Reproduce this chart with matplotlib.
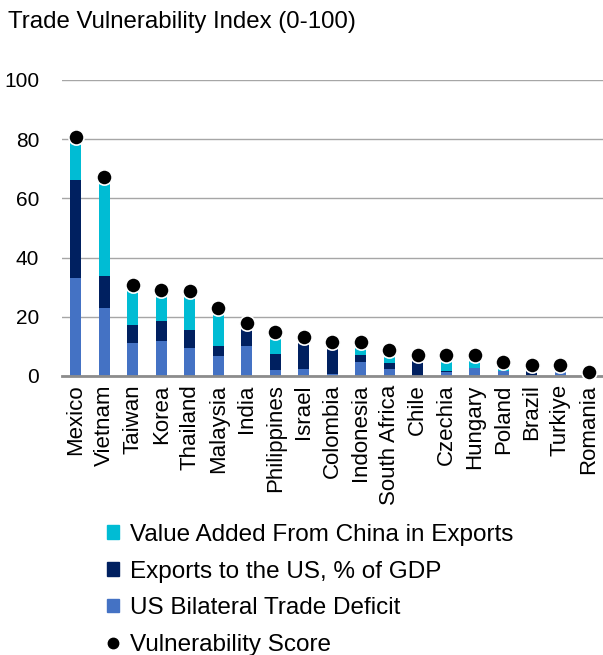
import numpy as np
import matplotlib
matplotlib.use("Agg")
import matplotlib.pyplot as plt
from matplotlib.lines import Line2D
from matplotlib.patches import Patch

plt.rcParams['font.family'] = ['Liberation Sans', 'DejaVu Sans']

countries = ["Mexico", "Vietnam", "Taiwan", "Korea", "Thailand", "Malaysia",
             "India", "Philippines", "Israel", "Colombia", "Indonesia",
             "South Africa", "Chile", "Czechia", "Hungary", "Poland",
             "Brazil", "Turkiye", "Romania"]

# index components (stacked bottom to top)
trade_deficit = [33.2, 23.0, 11.1, 11.8, 9.6, 6.7, 10.1, 1.9, 2.5, 0.7,
                 4.7, 2.5, 0.0, 1.5, 2.6, 1.6, 0.3, 3.7, 0.6]
exports_us = [33.0, 10.7, 6.2, 6.6, 6.0, 3.5, 7.9, 5.4, 10.8, 10.9,
              2.4, 2.0, 7.2, 0.3, 0.2, 0.0, 3.4, 0.0, 0.6]
china_va = [14.5, 33.4, 13.3, 10.5, 13.1, 12.8, 0.0, 7.7, 0.0, 0.0,
            4.5, 4.3, 0.0, 5.3, 4.3, 3.0, 0.0, 0.0, 0.0]
score = [80.7, 67.1, 30.6, 28.9, 28.7, 23.0, 18.0, 15.0, 13.3, 11.6,
         11.6, 8.8, 7.2, 7.1, 7.1, 4.6, 3.7, 3.7, 1.2]

c_blue = "#4472C4"
c_navy = "#002060"
c_cyan = "#00BCD4"

fig = plt.figure(figsize=(6.03, 6.55), dpi=100)
ax = fig.add_axes([0.102, 0.426, 0.898, 0.452])

x = np.arange(len(countries))
td = np.array(trade_deficit)
ex = np.array(exports_us)
cv = np.array(china_va)
w = 0.4
ax.bar(x, td, w, color=c_blue, zorder=2)
ax.bar(x, ex, w, bottom=td, color=c_navy, zorder=2)
ax.bar(x, cv, w, bottom=td + ex, color=c_cyan, zorder=2)
ax.scatter(x, score, s=120, color="black", edgecolor="white", linewidth=1.2,
           zorder=4, clip_on=False)

ax.set_xlim(-0.5, len(countries) - 0.5)
ax.set_ylim(0, 100)
ax.set_yticks(range(0, 101, 20))
ax.yaxis.grid(True, color="#A6A6A6", linewidth=1)
ax.set_axisbelow(True)
for s in ["top", "right", "left"]:
    ax.spines[s].set_visible(False)
ax.spines["bottom"].set_color("#8C8C8C")
ax.spines["bottom"].set_linewidth(2)
ax.spines["bottom"].set_zorder(3)
ax.tick_params(axis="y", length=0, pad=16, labelsize=15)
ax.tick_params(axis="x", length=0, pad=6, labelsize=16)
ax.set_xticks(x)
ax.set_xticklabels(countries, rotation=90)

fig.text(0.013, 0.966, "Trade Vulnerability Index (0-100)", fontsize=17.3,
         ha="left", va="center")

handles = [Patch(color=c_cyan), Patch(color=c_navy), Patch(color=c_blue),
           Line2D([], [], marker="o", color="black", linestyle="none",
                  markersize=7.5)]
labels = ["Value Added From China in Exports", "Exports to the US, % of GDP",
          "US Bilateral Trade Deficit", "Vulnerability Score"]
fig.legend(handles, labels, loc="upper left", bbox_to_anchor=(0.177, 0.2),
           frameon=False, fontsize=17.5, handlelength=0.5, handleheight=0.5,
           handletextpad=0.45, labelspacing=0.6, borderpad=0, borderaxespad=0)

fig.savefig("out.png", dpi=100)
